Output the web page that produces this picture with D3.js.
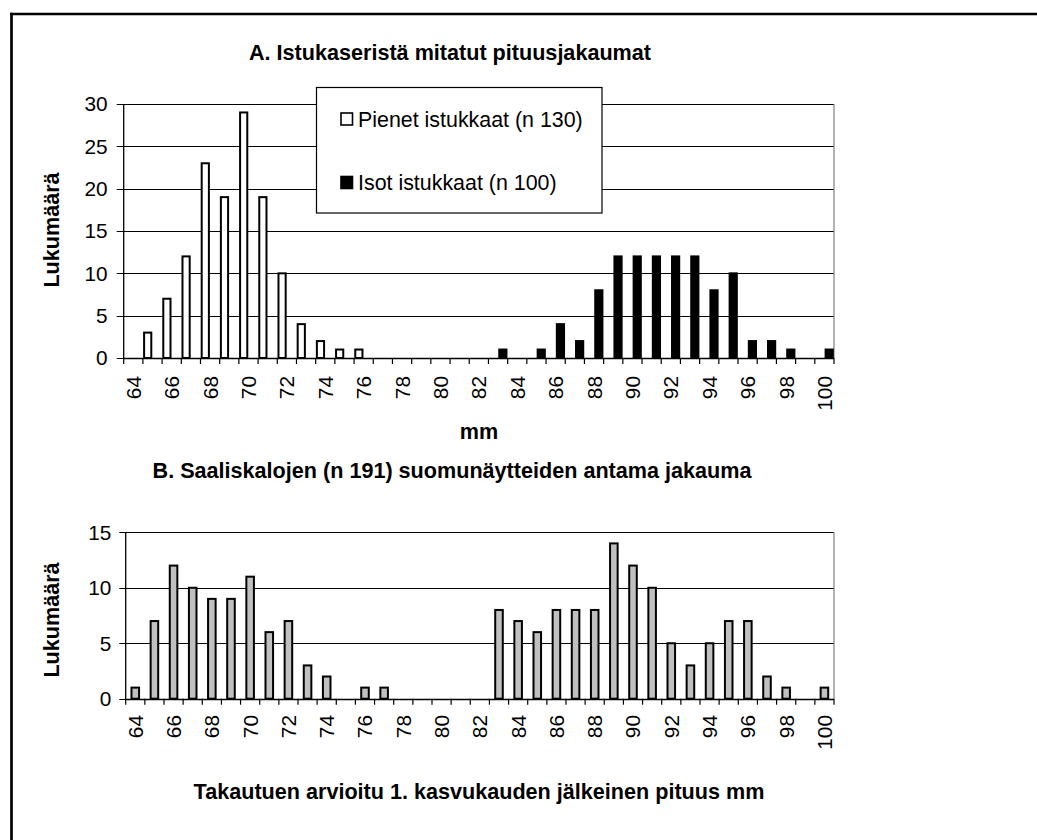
<!DOCTYPE html>
<html>
<head>
<meta charset="utf-8">
<script src="https://cdn.jsdelivr.net/npm/d3@7/dist/d3.min.js"></script>
<style>
  html, body { margin: 0; padding: 0; background: #fff; overflow: hidden; }
  svg { display: block; }
  text { font-family: "Liberation Sans", Arial, Helvetica, sans-serif; fill: #000; }
</style>
</head>
<body>
<svg id="chart" width="1037" height="840"></svg>
<script>
// ---------- data ----------
const categories = d3.range(64, 101).map(String); // 64 ... 100 mm
const xTickLabels = d3.range(64, 101, 2).map(String);

// Chart A: measured length distributions
const pienetValues = [0,3,7,12,23,19,29,19,10,4,2,1,1,0,0,0,0,0,0,0,0,0,0,0,0,0,0,0,0,0,0,0,0,0,0,0,0];
const isotValues   = [0,0,0,0,0,0,0,0,0,0,0,0,0,0,0,0,0,0,0,1,0,1,4,2,8,12,12,12,12,12,8,10,2,2,1,0,1];
const seriesNames = ["Pienet istukkaat (n 130)", "Isot istukkaat (n 100)"];
const yTicksA = [0,5,10,15,20,25,30];

// Chart B: back-calculated lengths from scale samples
const saalisValues = [1,7,12,10,9,9,11,6,7,3,2,0,1,1,0,0,0,0,0,8,7,6,8,8,8,14,12,10,5,3,5,7,7,2,1,0,1];
const yTicksB = [0,5,10,15];

const titleA = "A. Istukaseristä mitatut pituusjakaumat";
const titleB = "B. Saaliskalojen (n 191) suomunäytteiden antama jakauma";
const yTitle = "Lukumäärä";
const xTitleA = "mm";
const xTitleB = "Takautuen arvioitu 1. kasvukauden jälkeinen pituus mm";

// ---------- drawing ----------
const svg = d3.select("#chart");
const TICK_FS = 20.8, TITLE_FS = 21.6, LEGEND_FS = 21.4;

// outer frame: only top and left edges are inside the picture
svg.append("line").attr("x1", 11.5).attr("x2", 11.5).attr("y1", 12.7).attr("y2", 840)
  .attr("stroke", "#000").attr("stroke-width", 2.7);
svg.append("line").attr("x1", 10.2).attr("x2", 1037).attr("y1", 14).attr("y2", 14)
  .attr("stroke", "#000").attr("stroke-width", 2.7);

function drawPanel(opts) {
  const { left, right, top, bottom, yMax, yTicks, tickSize, tickPad, labelGap } = opts;
  const g = svg.append("g");
  const x = d3.scaleBand().domain(categories).range([left, right]).padding(0);
  const y = d3.scaleLinear().domain([0, yMax]).range([bottom, top]);
  const bw = x.bandwidth();

  g.selectAll(".grid").data(yTicks).join("line")
    .attr("x1", left - tickSize).attr("x2", right)
    .attr("y1", d => Math.round(y(d)) + 0.5).attr("y2", d => Math.round(y(d)) + 0.5)
    .attr("stroke", "#000").attr("stroke-width", 1);

  g.append("line")
    .attr("x1", right).attr("x2", right)
    .attr("y1", y(yMax)).attr("y2", y(0))
    .attr("stroke", "#808080").attr("stroke-width", 1.2);

  g.selectAll(".ylab").data(yTicks).join("text")
    .attr("x", left - tickSize - tickPad)
    .attr("y", d => y(d))
    .attr("dy", "0.36em")
    .attr("text-anchor", "end")
    .attr("font-size", TICK_FS)
    .text(d => d);

  g.append("line")
    .attr("x1", left).attr("x2", left)
    .attr("y1", y(yMax)).attr("y2", y(0) + 0.5)
    .attr("stroke", "#000").attr("stroke-width", 1.3);

  return { g, x, y, bw, left, right, bottom, labelGap };
}

function drawXAxis(p) {
  const { g, x, bw, left, right, bottom, labelGap } = p;
  const bounds = categories.map(c => x(c)).concat([right]);
  g.selectAll(".xtick").data(bounds).join("line")
    .attr("x1", d => d).attr("x2", d => d)
    .attr("y1", bottom).attr("y2", bottom + 6)
    .attr("stroke", "#000").attr("stroke-width", 1.2);
  g.append("line")
    .attr("x1", left).attr("x2", right)
    .attr("y1", Math.round(bottom) + 0.5).attr("y2", Math.round(bottom) + 0.5)
    .attr("stroke", "#000").attr("stroke-width", 1.3);
  g.selectAll(".xlab").data(xTickLabels).join("text")
    .attr("transform", d => `translate(${x(d) + bw / 2},${bottom + labelGap}) rotate(-90)`)
    .attr("text-anchor", "end")
    .attr("dy", "0.36em")
    .attr("font-size", TICK_FS)
    .text(d => d);
}

// ---- Panel A ----
const pA = drawPanel({ left: 123.7, right: 834, top: 104, bottom: 358, yMax: 30, yTicks: yTicksA, tickSize: 7, tickPad: 9, labelGap: 18 });
const seriesA = [
  { name: seriesNames[0], values: pienetValues, fill: "#fff", off: 0 },
  { name: seriesNames[1], values: isotValues, fill: "#000", off: 1 }
];
seriesA.forEach(s => {
  pA.g.selectAll(null).data(categories.map((c, i) => ({ c, v: s.values[i] })).filter(d => d.v > 0)).join("rect")
    .attr("x", d => pA.x(d.c) + s.off * pA.bw / 2 + 1.2)
    .attr("width", pA.bw / 2 - 2.4)
    .attr("y", d => pA.y(d.v))
    .attr("height", d => pA.y(0) - pA.y(d.v))
    .attr("fill", s.fill)
    .attr("stroke", "#000").attr("stroke-width", 2);
});
drawXAxis(pA);

// legend A
const lg = svg.append("g");
lg.append("rect").attr("x", 316.5).attr("y", 87.5).attr("width", 285.5).attr("height", 125.5)
  .attr("fill", "#fff").attr("stroke", "#000").attr("stroke-width", 1.2);
const legendRows = [
  { name: seriesNames[0], fill: "#fff", y: 126.5 },
  { name: seriesNames[1], fill: "#000", y: 190 }
];
legendRows.forEach(r => {
  lg.append("rect").attr("x", 341).attr("y", r.y - 13.5).attr("width", 11.5).attr("height", 12)
    .attr("fill", r.fill).attr("stroke", "#000").attr("stroke-width", 1.6);
  lg.append("text").attr("x", 358).attr("y", r.y).attr("font-size", LEGEND_FS).text(r.name);
});

// titles A
svg.append("text").attr("x", 450).attr("y", 59.5).attr("text-anchor", "middle")
  .attr("font-size", TITLE_FS).attr("font-weight", "bold").text(titleA);
svg.append("text").attr("transform", "translate(59,230) rotate(-90)").attr("text-anchor", "middle")
  .attr("font-size", TITLE_FS).attr("font-weight", "bold").text(yTitle);
svg.append("text").attr("x", 479).attr("y", 438.5).attr("text-anchor", "middle")
  .attr("font-size", TITLE_FS).attr("font-weight", "bold").text(xTitleA);

// ---- Panel B ----
const pB = drawPanel({ left: 125.7, right: 834, top: 532.3, bottom: 698.7, yMax: 15, yTicks: yTicksB, tickSize: 6.4, tickPad: 8, labelGap: 16.3 });
pB.g.selectAll(null).data(categories.map((c, i) => ({ c, v: saalisValues[i] })).filter(d => d.v > 0)).join("rect")
  .attr("x", d => pB.x(d.c) + pB.bw / 4 + 1)
  .attr("width", pB.bw / 2 - 2)
  .attr("y", d => pB.y(d.v))
  .attr("height", d => pB.y(0) - pB.y(d.v))
  .attr("fill", "#c0c0c0")
  .attr("stroke", "#000").attr("stroke-width", 2);
drawXAxis(pB);

svg.append("text").attr("x", 452).attr("y", 478).attr("text-anchor", "middle")
  .attr("font-size", TITLE_FS).attr("font-weight", "bold").text(titleB);
svg.append("text").attr("transform", "translate(59,620) rotate(-90)").attr("text-anchor", "middle")
  .attr("font-size", TITLE_FS).attr("font-weight", "bold").text(yTitle);
svg.append("text").attr("x", 479).attr("y", 799).attr("text-anchor", "middle")
  .attr("font-size", TITLE_FS).attr("font-weight", "bold").text(xTitleB);
</script>
</body>
</html>
